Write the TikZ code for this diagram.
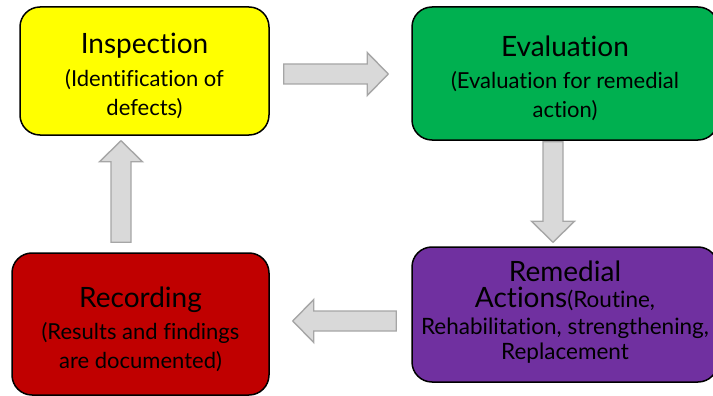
\documentclass[tikz,border=0pt]{standalone}
\usepackage{fontspec}
\setmainfont{Lato}[Ligatures=NoCommon]
\usetikzlibrary{calc}

\definecolor{stageyellow}{HTML}{FFFF00}
\definecolor{stagegreen}{HTML}{00B050}
\definecolor{stagered}{HTML}{C00000}
\definecolor{stagepurple}{HTML}{7030A0}

\newcommand\headsize{\fontsize{28}{33}\selectfont}
\newcommand\notesize{\fontsize{22}{29}\selectfont}

% block arrow from #1 to #2
\newcommand\blockarr[2]{%
  \coordinate (hb) at ($(#2)!21pt!(#1)$);
  \draw[flowarrow]
    ($(#1)!10pt!90:(#2)$) -- ($(hb)!10pt!-90:(#1)$) -- ($(hb)!21.5pt!-90:(#1)$)
    -- (#2) -- ($(hb)!21.5pt!90:(#1)$) -- ($(hb)!10pt!90:(#1)$)
    -- ($(#1)!10pt!-90:(#2)$) -- cycle;
}

\begin{document}
\begin{tikzpicture}[x=1pt, y=-1pt,
  stage/.style={draw=black, line width=1.5pt, rounded corners=20pt, inner sep=0pt},
  stagetext/.style={inner sep=0pt, align=center, text=black, font=\notesize},
  flowarrow/.style={fill=black!15, draw=black!35, line width=1.4pt, line join=miter}]
  \useasboundingbox (0,0) rectangle (713,396);

  % boxes
  \node[stage, fill=stageyellow, minimum width=249pt, minimum height=128pt] (insp) at (144.5,71) {};
  \node[stage, fill=stagegreen, minimum width=306pt, minimum height=133pt] (eval) at (565,73.5) {};
  \node[stage, fill=stagepurple, minimum width=306pt, minimum height=135pt] (rem) at (565,314.5) {};
  \node[stage, fill=stagered, minimum width=257pt, minimum height=142pt] (rec) at (140.5,324) {};

  % texts
  \node[stagetext] (insptext) at ([yshift=-4.5pt]insp.center)
    {{\headsize Inspection}\\[4pt](Identification of\\defects)};
  \node[stagetext] (evaltext) at ([yshift=-5pt]eval.center)
    {{\headsize Evaluation}\\[3pt](Evaluation for remedial\\action)};
  \node[stagetext, font=\fontsize{22.5}{27}\selectfont] (remtext) at ([yshift=2pt]rem.center)
    {{\headsize Remedial}\\[-1pt]{\headsize Actions}(Routine,\\Rehabilitation, strengthening,\\[-2pt]Replacement};
  \node[stagetext] (rectext) at ([yshift=-5.5pt]rec.center)
    {{\headsize Recording}\\[3pt](Results and findings\\are documented)};

  % arrow ends
  \coordinate (i2e) at ([shift={(14pt,-3pt)}]insp.east);
  \coordinate (e2i) at ([shift={(-23pt,-0.5pt)}]eval.west);
  \coordinate (e2r) at ([shift={(-12pt,-1pt)}]eval.south);
  \coordinate (r2e) at ([shift={(-12pt,4pt)}]rem.north);
  \coordinate (m2c) at ([shift={(-15pt,-6.5pt)}]rem.west);
  \coordinate (c2m) at ([shift={(23pt,3pt)}]rec.east);
  \coordinate (c2i) at ([shift={(-19.5pt,10pt)}]rec.north);
  \coordinate (i2c) at ([shift={(-23.5pt,-5pt)}]insp.south);

  \blockarr{i2e}{e2i}
  \blockarr{e2r}{r2e}
  \blockarr{m2c}{c2m}
  \blockarr{c2i}{i2c}
\end{tikzpicture}
\end{document}
